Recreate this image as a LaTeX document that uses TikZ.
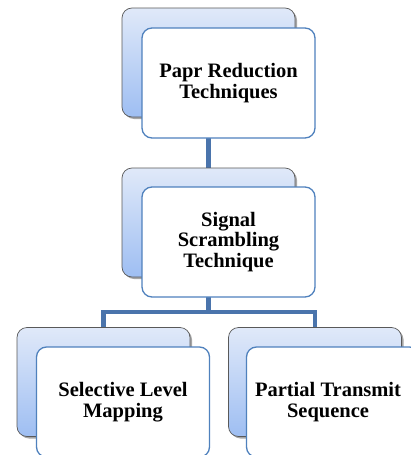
\documentclass[tikz,border=0pt]{standalone}
\usepackage{fontspec}
\setmainfont{Liberation Serif}
\usetikzlibrary{shadows,backgrounds}
\definecolor{frontblue}{HTML}{4F81BD}
\definecolor{linkblue}{HTML}{4A74AC}
\definecolor{backtop}{HTML}{E0E9F9}
\definecolor{backbot}{HTML}{9EBEF2}
\tikzset{
  backbox/.style={rectangle, rounded corners=10pt, draw=black!65, line width=0.7pt,
    top color=backtop, bottom color=backbot, inner sep=0pt,
    minimum width=173pt, minimum height=109pt,
    drop shadow={shadow xshift=2pt, shadow yshift=-2pt, opacity=0.35, fill=black}},
  boxtext/.style={align=center, font=\fontsize{20.5}{20.5}\selectfont\bfseries},
  frontbox/.style={rectangle, rounded corners=10pt, draw=frontblue, line width=1.3pt,
    fill=white, inner sep=0pt, minimum width=173pt, minimum height=110pt, boxtext},
  link/.style={draw=linkblue, line width=4.5pt}
}
\begin{document}
\begin{tikzpicture}[x=1pt,y=-1pt]
\useasboundingbox (0,0) rectangle (410,455);
% boxes
\node[backbox] (b1) at (208.5,62.5) {};
\node[frontbox] (f1) at (228.5,83) {Papr Reduction\\Techniques};
\node[backbox] (b2) at (208.5,222.5) {};
\node[frontbox] (f2) at (228.5,242) {Signal\\Scrambling\\Technique};
\node[backbox] (b3) at (103.5,382) {};
\node[frontbox] (f3) at (123,402) {Selective Level\\Mapping};
\node[backbox] (b4) at (315,382) {};
\node[frontbox] (f4) at (333,402) {};
\node[boxtext] (t4) at (328,402) {Partial Transmit\\Sequence};
\coordinate (j) at (208.5,312);
% connectors
\begin{scope}[on background layer]
\draw[link] (b1.center) -- (b2.center);
\draw[link] (b2.center) -- (j);
\draw[link] (b3.center) |- (j) -| (b4.center);
\end{scope}
\end{tikzpicture}
\end{document}
